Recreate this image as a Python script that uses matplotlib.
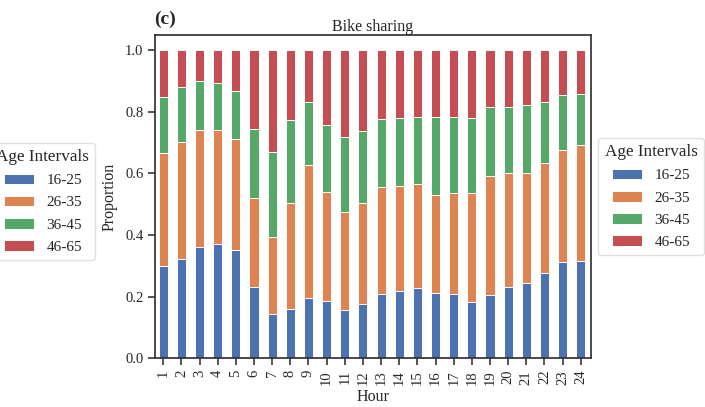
#!/usr/bin/env python3
"""Hourly age-interval proportions of bike-sharing trips (stacked bars)."""

import matplotlib

matplotlib.use("Agg")
import matplotlib.pyplot as plt
import numpy as np

hours = [str(h) for h in range(1, 25)]
age_groups = ["16-25", "26-35", "36-45", "46-65"]

# share of trips per hour for each age interval
p_16_25 = [0.298, 0.322, 0.362, 0.370, 0.353, 0.232, 0.145, 0.160, 0.197, 0.185, 0.157, 0.177,
           0.208, 0.219, 0.229, 0.211, 0.209, 0.183, 0.206, 0.232, 0.243, 0.277, 0.314, 0.317]
p_26_35 = [0.370, 0.380, 0.378, 0.372, 0.360, 0.288, 0.250, 0.343, 0.431, 0.356, 0.318, 0.327,
           0.347, 0.342, 0.338, 0.319, 0.328, 0.354, 0.387, 0.368, 0.357, 0.358, 0.363, 0.374]
p_36_45 = [0.182, 0.179, 0.159, 0.152, 0.155, 0.224, 0.276, 0.271, 0.203, 0.217, 0.242, 0.233,
           0.222, 0.219, 0.217, 0.252, 0.245, 0.242, 0.223, 0.216, 0.221, 0.196, 0.179, 0.168]
p_46_65 = [0.150, 0.119, 0.101, 0.106, 0.132, 0.256, 0.329, 0.226, 0.169, 0.242, 0.283, 0.263,
           0.223, 0.220, 0.216, 0.218, 0.218, 0.221, 0.184, 0.184, 0.179, 0.169, 0.144, 0.141]

colors = ["#4C72B0", "#DD8452", "#55A868", "#C44E52"]

plt.rcParams["font.family"] = ["Liberation Serif", "DejaVu Serif"]
plt.rcParams["font.size"] = 10.5
plt.rcParams["text.color"] = "0.15"
plt.rcParams["axes.labelcolor"] = "0.15"
plt.rcParams["xtick.color"] = "0.15"
plt.rcParams["ytick.color"] = "0.15"


def main() -> int:
    fig = plt.figure(figsize=(7.05, 4.07), dpi=100)
    ax = fig.add_axes([0.220, 0.120, 0.618, 0.794])

    series = [p_16_25, p_26_35, p_36_45, p_46_65]
    x = np.arange(len(hours))
    bottom = np.zeros(len(hours))
    handles = []
    for vals, label, color in zip(series, age_groups, colors):
        vals = np.asarray(vals)
        bars = ax.bar(x, vals, width=0.5, bottom=bottom, color=color,
                      edgecolor="white", linewidth=0.7, label=label)
        handles.append(bars)
        bottom += vals

    ax.set_xlim(-0.45, 23.55)
    ax.set_ylim(0, 1.05)
    ax.set_xticks(x)
    ax.set_xticklabels(hours, rotation=90)
    ax.set_yticks(np.arange(0, 1.01, 0.2))
    ax.yaxis.set_major_formatter(matplotlib.ticker.FormatStrFormatter("%.1f"))
    ax.tick_params(direction="out", length=5, width=1.1, labelsize=10.5)
    for spine in ax.spines.values():
        spine.set_linewidth(1.25)
        spine.set_color("0.2")

    ax.set_xlabel("Hour", fontsize=11.5, labelpad=3)
    ax.set_ylabel("Proportion", fontsize=11.5, labelpad=5)
    ax.set_title("Bike sharing", fontsize=11.5, pad=1.5)
    fig.text(0.219, 0.930, "(c)", fontsize=14, fontweight="bold", ha="left", va="bottom")

    legend_kw = dict(title="Age Intervals", fontsize=11, title_fontsize=12.3,
                     frameon=True, fancybox=True, edgecolor="0.85",
                     handlelength=2.0, labelspacing=0.55, borderpad=0.4)
    fig.legend(handles, age_groups, loc="center right",
               bbox_to_anchor=(0.146, 0.505), **legend_kw)
    fig.legend(handles, age_groups, loc="center left",
               bbox_to_anchor=(0.838, 0.517), **legend_kw)

    fig.savefig("out.png", dpi=100)
    plt.close(fig)
    return 0


if __name__ == "__main__":
    raise SystemExit(main())
